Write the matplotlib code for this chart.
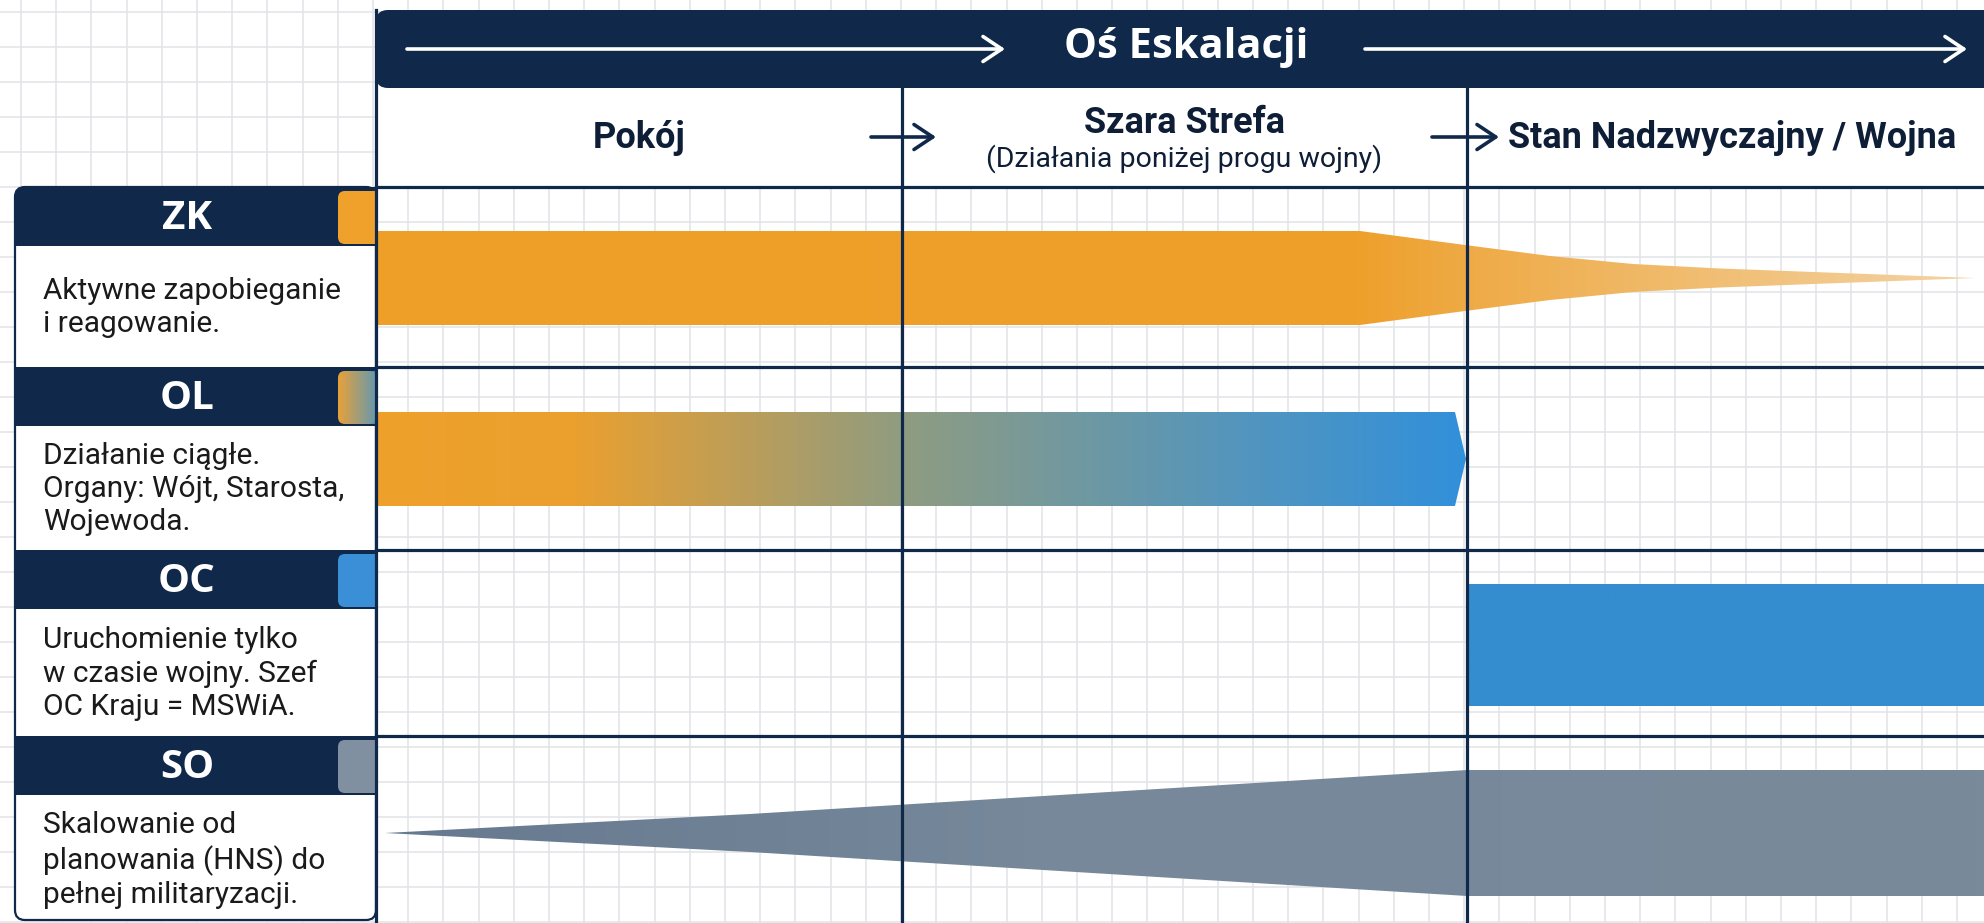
import numpy as np
import matplotlib.pyplot as plt
from matplotlib.patches import Polygon, Rectangle, FancyBboxPatch
from matplotlib.colors import LinearSegmentedColormap

W, H = 1984, 923
NAVY = '#10294B'

title = 'Oś Eskalacji'
phases = ['Pokój', 'Szara Strefa', 'Stan Nadzwyczajny / Wojna']
phase_sub = ['', '(Działania poniżej progu wojny)', '']
phase_edges = [376, 902, 1467, 1984]
codes = ['ZK', 'OL', 'OC', 'SO']
descs = ['Aktywne zapobieganie\ni reagowanie.',
         'Działanie ciągłe.\nOrgany: Wójt, Starosta,\nWojewoda.',
         'Uruchomienie tylko\nw czasie wojny. Szef\nOC Kraju = MSWiA.',
         'Skalowanie od\nplanowania (HNS) do\npełnej militaryzacji.']
row_edges = [187, 367, 550, 736, 923]
head_h = 59

# bar profiles (position along escalation axis, half thickness)
zk_x = [376, 1360, 1465, 1550, 1633, 1720, 1800, 1975]
zk_w = [47, 47, 33, 22, 14, 9.5, 6.5, 0]
ol_x = [376, 1455, 1466]
ol_w = [47, 47, 0]
oc_x = [1467, 1984]
oc_w = [61, 61]
so_x = [385, 750, 1467, 1984]
so_w = [0, 19, 63, 63]
bar_mid = [278, 459, 645, 833]

zk_cols = [(0, '#EE9F27'), (0.615, '#EEA02B'), (0.69, '#EFAB48'), (0.8, '#F0B968'), (1, '#F4D3A4')]
ol_cols = [(0, '#EEA02A'), (0.18, '#EBA02F'), (0.48, '#909C80'), (0.8, '#5295BF'), (1, '#3290DA')]
oc_cols = [(0, '#338DCF'), (1, '#338DCF')]
so_cols = [(0, '#66798F'), (0.4, '#76889A'), (1, '#798A9B')]
tab_cols = [['#EFA12C', '#EFA12C'], ['#E7A13A', '#8E9C8A', '#3F92D2'],
            ['#3A8FD6', '#3A8FD6'], ['#8090A0', '#8090A0']]

fig = plt.figure(figsize=(W / 100, H / 100), dpi=100)
ax = fig.add_axes([0, 0, 1, 1])
ax.set_axis_off()

# background grid
for gx in np.arange(21, W, 35.2):
    ax.axvline(gx, color='#E0E3E8', lw=1.1, zorder=0)
for gy in np.arange(11.7, H, 35):
    ax.axhline(gy, color='#E0E3E8', lw=1.1, zorder=0)


def grad_bar(xs, ws, mid, cols, z=3):
    xs = np.array(xs, float)
    ws = np.array(ws, float)
    verts = np.column_stack([np.r_[xs, xs[::-1]], np.r_[mid - ws, (mid + ws)[::-1]]])
    poly = Polygon(verts, closed=True, fc='none', ec='none')
    ax.add_patch(poly)
    cmap = LinearSegmentedColormap.from_list('g', cols)
    im = ax.imshow(np.linspace(0, 1, 256)[None, :], cmap=cmap, aspect='auto',
                   extent=[xs.min(), xs.max(), mid + ws.max(), mid - ws.max()],
                   interpolation='bilinear', zorder=z)
    im.set_clip_path(poly)


grad_bar(zk_x, zk_w, bar_mid[0], zk_cols)
grad_bar(ol_x, ol_w, bar_mid[1], ol_cols)
grad_bar(oc_x, oc_w, bar_mid[2], oc_cols)
grad_bar(so_x, so_w, bar_mid[3], so_cols)

# title band
ax.add_patch(FancyBboxPatch((376, 10), 1700, 78, boxstyle='round,pad=0,rounding_size=12',
                            fc=NAVY, ec='none', zorder=4))
ax.text(1186, 48, title, color='white', fontsize=30, fontweight='bold',
        family=['Open Sans', 'DejaVu Sans'], ha='center', va='center', zorder=7)
for x0, x1 in [(407, 1005), (1365, 1967)]:
    ax.annotate('', xy=(x1, 49), xytext=(x0, 49), zorder=7,
                arrowprops=dict(arrowstyle='->,head_length=0.45,head_width=0.3',
                                color='white', lw=2.6, mutation_scale=30,
                                shrinkA=0, shrinkB=0))

# phase header row
ax.add_patch(Rectangle((376, 88), 1700, 99, fc='white', ec='none', zorder=2))
for i, p in enumerate(phases):
    cx = (phase_edges[i] + phase_edges[i + 1]) / 2
    if i == 2:
        cx = 1732
    if phase_sub[i]:
        ax.text(cx, 123, p, color='#0D1E36', fontsize=26, fontweight='bold',
                family='Roboto', ha='center', va='center', zorder=7)
        ax.text(cx, 159, phase_sub[i], color='#0D1E36', fontsize=20.5,
                family='Roboto', ha='center', va='center', zorder=7)
    else:
        ax.text(cx, 138, p, color='#0D1E36', fontsize=26, fontweight='bold',
                family='Roboto', ha='center', va='center', zorder=7)
for x0, x1 in [(871, 936), (1432, 1499)]:
    ax.annotate('', xy=(x1, 137), xytext=(x0, 137), zorder=7,
                arrowprops=dict(arrowstyle='->,head_length=0.45,head_width=0.3',
                                color=NAVY, lw=2.6, mutation_scale=30,
                                shrinkA=0, shrinkB=0))

# frame lines
ax.plot([376, 376], [10, H], color=NAVY, lw=2.3, zorder=6)
for x in phase_edges[1:3]:
    ax.plot([x, x], [88, H], color=NAVY, lw=2.3, zorder=6)
for y in row_edges[:4]:
    ax.plot([376, W], [y, y], color=NAVY, lw=2.3, zorder=6)

# left panel
ax.add_patch(FancyBboxPatch((15, 187), 361, 733, boxstyle='round,pad=0,rounding_size=10',
                            fc='white', ec=NAVY, lw=1.6, zorder=4))
for i, code in enumerate(codes):
    y0 = row_edges[i]
    if i == 0:
        ax.add_patch(FancyBboxPatch((15, y0), 361, head_h, boxstyle='round,pad=0,rounding_size=10',
                                    fc=NAVY, ec='none', zorder=5))
        ax.add_patch(Rectangle((15, y0 + 12), 361, head_h - 12, fc=NAVY, ec='none', zorder=5))
        ax.add_patch(Rectangle((30, y0), 346, head_h, fc=NAVY, ec='none', zorder=5))
    else:
        ax.add_patch(Rectangle((15, y0), 361, head_h, fc=NAVY, ec='none', zorder=5))
    ax.text(187, y0 + head_h / 2 + 2, code, color='white', fontsize=29, fontweight='bold',
            family=['Open Sans', 'DejaVu Sans'], ha='center', va='center', zorder=7)
    # colour tab
    t0, t1 = y0 + 4, y0 + head_h - 2
    tab = FancyBboxPatch((338, t0), 38, t1 - t0, boxstyle='round,pad=0,rounding_size=7',
                         fc='none', ec='none', zorder=5)
    ax.add_patch(tab)
    cmap = LinearSegmentedColormap.from_list('t', tab_cols[i])
    im = ax.imshow(np.linspace(0, 1, 64)[None, :], cmap=cmap, aspect='auto',
                   extent=[338, 390, t1, t0], zorder=5.5, interpolation='bilinear')
    im.set_clip_path(tab)
    sq = Rectangle((352, t0), 24, t1 - t0, fc=tab_cols[i][-1], ec='none', zorder=5.4)
    ax.add_patch(sq)
    # description
    dy = (y0 + head_h + row_edges[i + 1]) / 2 + 1
    ax.text(43, dy, descs[i], color='#1A1A1A', fontsize=21.5, family='Roboto',
            ha='left', va='center', linespacing=1.24, zorder=7)

ax.set_xlim(0, W)
ax.set_ylim(H, 0)
fig.savefig('out.png', dpi=100)
